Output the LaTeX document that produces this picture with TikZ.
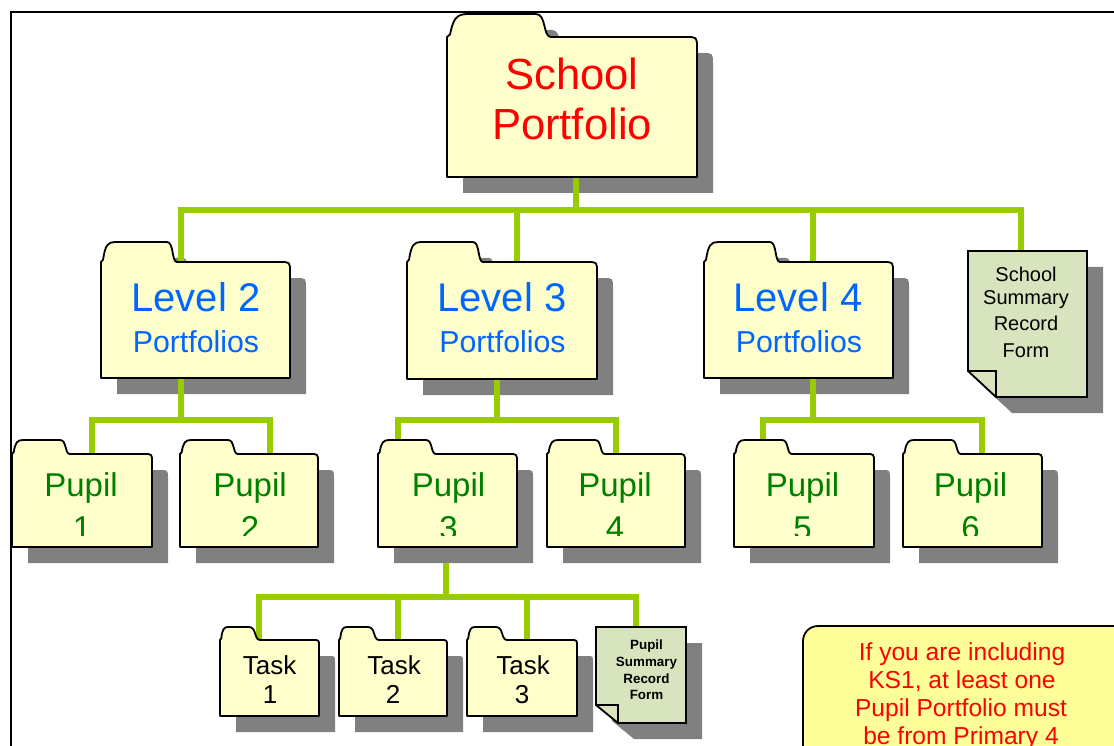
\documentclass[tikz,border=0pt]{standalone}
\usepackage{fontspec}
\setmainfont{Liberation Sans}
\pgfdeclarelayer{shadowL}
\pgfdeclarelayer{connL}
\pgfdeclarelayer{foldL}
\pgfsetlayers{shadowL,connL,foldL,main}
\definecolor{foldfill}{HTML}{FFFFCC}
\definecolor{formfill}{HTML}{D7E4BD}
\definecolor{shadowc}{HTML}{808080}
\definecolor{connc}{HTML}{99CC00}
\definecolor{lvlblue}{HTML}{0066FF}
\definecolor{pupgreen}{HTML}{008000}
\definecolor{notefill}{HTML}{FFFF99}
\definecolor{redtxt}{HTML}{FF0000}
\tikzset{
  body/.style={rectangle,inner sep=0pt,outer sep=0pt},
  folderst/.style={fill=foldfill,draw=black,line width=1.8pt,line join=round},
  formst/.style={fill=formfill,draw=black,line width=1.8pt,line join=miter},
  shad/.style={fill=shadowc},
  conn/.style={draw=connc,line width=6.5pt,line join=miter,line cap=butt},
  txt/.style={inner sep=0pt,anchor=base},
  notest/.style={rectangle,draw=black,line width=1.8pt,fill=notefill,rounded corners=15pt,inner sep=0pt},
}
% folder outline: #1 node, #2 offset, #3 tab height, #4 lip end, #5 flat end, #6 curve end, #7 corner radius
\newcommand\folderoutline[7]{%
 ([shift={({#2},{#2})}]#1.south west)
 -- ([shift={({#2},{#2})}]#1.north west)
 -- ([shift={({#2+0.15*#4},{#2-0.12*#3})}]#1.north west)
 .. controls ([shift={({#2+0.3*#4},{#2-0.85*#3})}]#1.north west) and ([shift={({#2+0.5*#4},{#2-#3})}]#1.north west) .. ([shift={({#2+#4},{#2-#3})}]#1.north west)
 -- ([shift={({#2+#5},{#2-#3})}]#1.north west)
 .. controls ([shift={({#2+#5+0.7*(#6-#5)},{#2-#3})}]#1.north west) and ([shift={({#2+#5+0.45*(#6-#5)},{#2})}]#1.north west) .. ([shift={({#2+#6},{#2})}]#1.north west)
 -- ([shift={({#2-#7},{#2})}]#1.north east)
 .. controls ([shift={({#2},{#2})}]#1.north east) .. ([shift={({#2},{#2+#7})}]#1.north east)
 -- ([shift={({#2},{#2})}]#1.south east) -- cycle}
\newcommand\drawfolder[6]{%
 \begin{pgfonlayer}{shadowL}\fill[shad] \folderoutline{#1}{16}{#2}{#3}{#4}{#5}{#6};\end{pgfonlayer}
 \begin{pgfonlayer}{foldL}\path[folderst] \folderoutline{#1}{0}{#2}{#3}{#4}{#5}{#6};\end{pgfonlayer}}
% form outline: #1 node, #2 offset, #3 fold width, #4 fold height
\newcommand\formoutline[4]{%
 ([shift={({#2},{#2})}]#1.north west) -- ([shift={({#2},{#2})}]#1.north east)
 -- ([shift={({#2},{#2})}]#1.south east) -- ([shift={({#2+#3},{#2})}]#1.south west)
 -- ([shift={({#2},{#2-#4})}]#1.south west) -- cycle}
\newcommand\drawform[3]{%
 \begin{pgfonlayer}{shadowL}\fill[shad] \formoutline{#1}{16}{#2}{#3};\end{pgfonlayer}
 \begin{pgfonlayer}{foldL}\path[formst] \formoutline{#1}{0}{#2}{#3};
 \draw[line width=1.8pt,line join=miter] ([shift={(0,{-#3})}]#1.south west) -- ([shift={({#2},{-#3})}]#1.south west) -- ([shift={({#2},0)}]#1.south west);\end{pgfonlayer}}
\begin{document}
\begin{tikzpicture}[x=1pt,y=-1pt]
\useasboundingbox (0,0) rectangle (1114,746);
\clip (0,0) rectangle (1114,746);
% frame
\draw[line width=2pt] (11,770) -- (11,12) -- (1130,12);

% folder bodies
\node[body,minimum width=250,minimum height=140] (top) at (572,107) {};
\node[body,minimum width=189,minimum height=116] (l2) at (195.5,320) {};
\node[body,minimum width=190,minimum height=117] (l3) at (502,320.5) {};
\node[body,minimum width=189,minimum height=116] (l4) at (798.5,320) {};
\node[body,minimum width=140,minimum height=93] (p1) at (82,500.5) {};
\node[body,minimum width=138,minimum height=93] (p2) at (249,500.5) {};
\node[body,minimum width=139,minimum height=93] (p3) at (447.5,500.5) {};
\node[body,minimum width=138,minimum height=93] (p4) at (616,500.5) {};
\node[body,minimum width=140,minimum height=93] (p5) at (804,500.5) {};
\node[body,minimum width=139,minimum height=93] (p6) at (972.5,500.5) {};
\node[body,minimum width=99,minimum height=76] (t1) at (269.5,678) {};
\node[body,minimum width=108,minimum height=76] (t2) at (393,678) {};
\node[body,minimum width=110,minimum height=76] (t3) at (522,678) {};
\node[body,minimum width=119,minimum height=146] (ssf) at (1027.5,324) {};
\node[body,minimum width=90,minimum height=96] (psf) at (641,675) {};

\drawfolder{top}{23}{21}{89}{104}{11}
\drawfolder{l2}{20}{14}{66}{76}{10}
\drawfolder{l3}{20}{14}{66}{76}{10}
\drawfolder{l4}{20}{14}{66}{76}{10}
\drawfolder{p1}{14}{11}{48}{58}{8}
\drawfolder{p2}{14}{11}{48}{58}{8}
\drawfolder{p3}{14}{11}{48}{58}{8}
\drawfolder{p4}{14}{11}{48}{58}{8}
\drawfolder{p5}{14}{11}{48}{58}{8}
\drawfolder{p6}{14}{11}{48}{58}{8}
\drawfolder{t1}{13}{8}{29}{40}{6}
\drawfolder{t2}{13}{8}{29}{40}{6}
\drawfolder{t3}{13}{8}{29}{40}{6}
\drawform{ssf}{28}{26}
\drawform{psf}{22}{18}

% connectors
\coordinate (busA) at (0,210);
\coordinate (busB) at (0,420);
\coordinate (busC) at (0,597);
\begin{pgfonlayer}{connL}
\draw[conn] ([xshift=4]top.south) -- ([xshift=4]top.south |- busA);
\draw[conn] ([xshift=4]top.south |- busA) -| ([xshift=-14.5]l2.north);
\draw[conn] ([xshift=4]top.south |- busA) -| ([xshift=15]l3.north);
\draw[conn] ([xshift=4]top.south |- busA) -| ([xshift=14.5]l4.north);
\draw[conn] ([xshift=4]top.south |- busA) -| ([xshift=-6.5]ssf.north);

\draw[conn] ([xshift=-14.5]l2.south) -- ([xshift=-14.5]l2.south |- busB);
\draw[conn] ([xshift=-14.5]l2.south |- busB) -| ([xshift=10]p1.north);
\draw[conn] ([xshift=-14.5]l2.south |- busB) -| ([xshift=21]p2.north);

\draw[conn] ([xshift=-5]l3.south) -- ([xshift=-5]l3.south |- busB);
\draw[conn] ([xshift=-5]l3.south |- busB) -| ([xshift=-49.5]p3.north);
\draw[conn] ([xshift=-5]l3.south |- busB) -| ([xshift=0]p4.north);

\draw[conn] ([xshift=14.5]l4.south) -- ([xshift=14.5]l4.south |- busB);
\draw[conn] ([xshift=14.5]l4.south |- busB) -| ([xshift=-41]p5.north);
\draw[conn] ([xshift=14.5]l4.south |- busB) -| ([xshift=9.5]p6.north);

\draw[conn] ([shift={(-1.5,16)}]p3.south) -- ([xshift=-1.5]p3.south |- busC);
\draw[conn] ([xshift=-1.5]p3.south |- busC) -| ([xshift=-10.5]t1.north);
\draw[conn] ([xshift=-1.5]p3.south |- busC) -| ([xshift=5]t2.north);
\draw[conn] ([xshift=-1.5]p3.south |- busC) -| ([xshift=5]t3.north);
\draw[conn] ([xshift=-1.5]p3.south |- busC) -| ([xshift=-5]psf.north);
\end{pgfonlayer}

% texts
\node[txt,text=redtxt,font=\fontsize{43.6}{50}\selectfont] (topa) at (572,90) {School};
\node[txt,text=redtxt,font=\fontsize{43.6}{50}\selectfont] (topb) at (572,140) {Portfolio};

\node[txt,text=lvlblue,font=\fontsize{40}{46}\selectfont] (l2a) at (196,311) {Level 2};
\node[txt,text=lvlblue,font=\fontsize{30.3}{36}\selectfont] (l2b) at (196,352) {Portfolios};
\node[txt,text=lvlblue,font=\fontsize{40}{46}\selectfont] (l3a) at (502,311) {Level 3};
\node[txt,text=lvlblue,font=\fontsize{30.3}{36}\selectfont] (l3b) at (502.5,352) {Portfolios};
\node[txt,text=lvlblue,font=\fontsize{40}{46}\selectfont] (l4a) at (798,311) {Level 4};
\node[txt,text=lvlblue,font=\fontsize{30.3}{36}\selectfont] (l4b) at (799,352) {Portfolios};

\begin{scope}
\clip (0,0) rectangle (1114,535);
\tikzset{ptxt/.style={txt,text=pupgreen,font=\fontsize{33}{40}\selectfont}}
\node[ptxt] (p1a) at (81,496) {Pupil};
\node[ptxt] (p1b) at (82,539) {1};
\node[ptxt] (p2a) at (250,496) {Pupil};
\node[ptxt] (p2b) at (250,539) {2};
\node[ptxt] (p3a) at (448.5,496) {Pupil};
\node[ptxt] (p3b) at (448.5,539) {3};
\node[ptxt] (p4a) at (615,496) {Pupil};
\node[ptxt] (p4b) at (615,539) {4};
\node[ptxt] (p5a) at (802.5,496) {Pupil};
\node[ptxt] (p5b) at (802.5,539) {5};
\node[ptxt] (p6a) at (970.5,496) {Pupil};
\node[ptxt] (p6b) at (970.5,539) {6};
\end{scope}

\tikzset{ttxt/.style={txt,text=black,font=\fontsize{26}{30}\selectfont}}
\node[ttxt] (t1a) at (269.5,674) {Task};
\node[ttxt] (t1b) at (270,703) {1};
\node[ttxt] (t2a) at (394,674) {Task};
\node[ttxt] (t2b) at (393,703) {2};
\node[ttxt] (t3a) at (523,674) {Task};
\node[ttxt] (t3b) at (522,703) {3};

\tikzset{stxt/.style={txt,text=black,font=\fontsize{20}{24}\selectfont}}
\node[stxt] (s1) at (1026,281) {School};
\node[stxt] (s2) at (1026,304) {Summary};
\node[stxt] (s3) at (1026,330) {Record};
\node[stxt] (s4) at (1026,357) {Form};

\tikzset{pstxt/.style={txt,text=black,font=\bfseries\fontsize{13.4}{16}\selectfont}}
\node[pstxt] (ps1) at (646.5,649) {Pupil};
\node[pstxt] (ps2) at (646.5,666) {Summary};
\node[pstxt] (ps3) at (646.5,683) {Record};
\node[pstxt] (ps4) at (646.5,699) {Form};

\node[notest,minimum width=337,minimum height=144] (note) at (971.5,698) {};
\tikzset{ntxt/.style={txt,text=redtxt,font=\fontsize{24.6}{28}\selectfont}}
\node[ntxt] (n1) at (962,660) {If you are including};
\node[ntxt] (n2) at (962,688) {KS1, at least one};
\node[ntxt] (n3) at (961,716) {Pupil Portfolio must};
\node[ntxt] (n4) at (961,744) {be from Primary 4};
\end{tikzpicture}
\end{document}
